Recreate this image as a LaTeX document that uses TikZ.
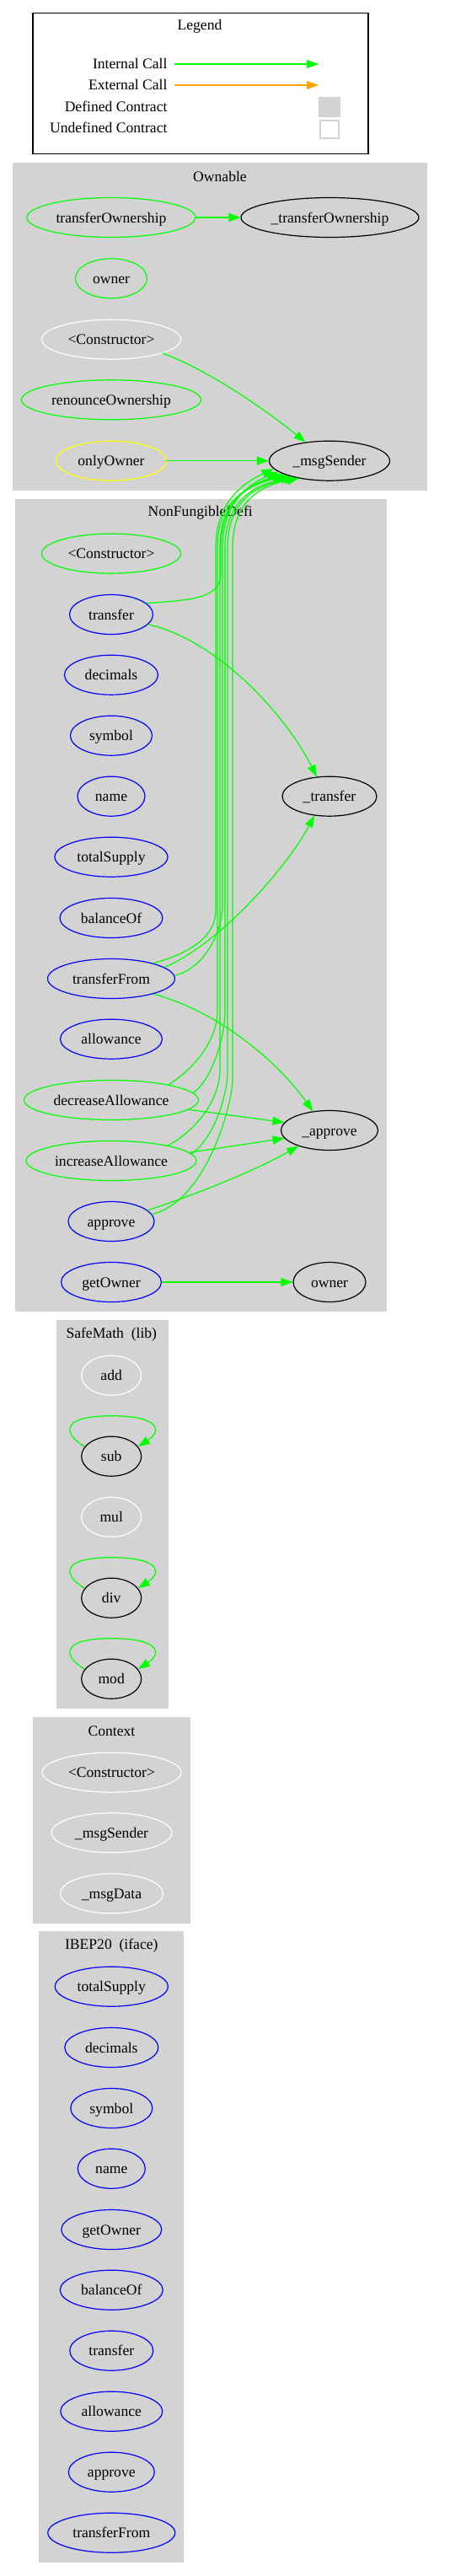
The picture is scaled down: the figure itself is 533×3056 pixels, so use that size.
\documentclass[tikz,border=0pt]{standalone}
\usepackage{fontspec}
\setmainfont{Liberation Serif}
\usetikzlibrary{shapes.geometric,arrows.meta,calc}
\definecolor{lgray}{HTML}{D3D3D3}
\definecolor{gr}{HTML}{00FF00}
\definecolor{bl}{HTML}{0000FF}
\definecolor{ye}{HTML}{FFFF00}
\definecolor{orng}{HTML}{FFA500}
\newcommand\sloop[1]{\draw[call] (#1.160) .. controls ($(#1)+(-59,-28)$) and ($(#1)+(-59,-48)$) .. ($(#1)+(0,-48)$) .. controls ($(#1)+(58,-48)$) and ($(#1)+(60,-30)$) .. (#1.20);}
\newcommand\bund[5]{\draw[call] (#1) .. controls (#2) and (#3,#4+30) .. (#3,#4) -- (#3,650) .. controls (#3,605) and (#3+22,578) .. (msgS.#5);}
\begin{document}
\begin{tikzpicture}[x=1pt,y=-1pt,
  every node/.style={font=\fontsize{17.6}{21}\selectfont},
  fn/.style={ellipse, draw, line width=1.2pt, minimum height=47pt, inner sep=0pt, text height=13pt, text depth=1pt},
  gfn/.style={fn, draw=gr},
  bfn/.style={fn, draw=bl},
  wfn/.style={fn, draw=white},
  kfn/.style={fn, draw=black},
  yfn/.style={fn, draw=ye},
  call/.style={draw=gr, line width=1.2pt, -{Triangle[length=14pt,width=10pt]}},
  ext/.style={draw=orng, line width=1.2pt, -{Triangle[length=14pt,width=10pt]}},
  ttl/.style={anchor=base},
  lgd/.style={anchor=base east}
]
\useasboundingbox (0,0) rectangle (533,3056);
\fill[white] (0,0) rectangle (533,3056);

% Legend
\draw[line width=1.3pt, fill=white] (39,15.7) rectangle (437,182.7);
\node[ttl] (lgT) at (237,36) {Legend};
\node[lgd] (lgI) at (202,81.5) {Internal Call};
\node[lgd] (lgE) at (202,106.8) {External Call};
\node[lgd] (lgD) at (202,132.1) {Defined Contract};
\node[lgd] (lgU) at (202,157.4) {Undefined Contract};
\coordinate (liA) at (207,76);
\coordinate (liB) at (378,76);
\coordinate (leA) at (207,101);
\coordinate (leB) at (378,101);
\draw[call] (liA) -- (liB);
\draw[ext] (leA) -- (leB);
\fill[lgray] (378,115) rectangle (404,139);
\draw[lgray, line width=1.2pt, fill=white] (380,143) rectangle (402,164);

% Clusters
\fill[lgray] (15,192.7) rectangle (507,581.7);
\fill[lgray] (17.7,591.7) rectangle (459,1556);
\fill[lgray] (66.7,1566) rectangle (199.7,2027.3);
\fill[lgray] (39,2036.7) rectangle (226,2281.7);
\fill[lgray] (46.3,2291) rectangle (218.3,3040);
\node[ttl] (cOwn) at (261,215) {Ownable};
\node[ttl] (cNFD) at (237.7,612.3) {NonFungibleDefi};
\node[ttl] (cSM) at (132.3,1587.3) {SafeMath\ \ (lib)};
\node[ttl] (cCtx) at (132.5,2059) {Context};
\node[ttl] (cIB) at (132.3,2312.7) {IBEP20\ \ (iface)};

% Ownable
\node[gfn, minimum width=200] (tO) at (132,258) {transferOwnership};
\node[kfn, minimum width=211] (tOi) at (391.5,258) {\_transferOwnership};
\node[gfn, minimum width=85] (oOwner) at (132,330.3) {owner};
\node[wfn, minimum width=165] (oCtor) at (132,402.7) {<Constructor>};
\node[gfn, minimum width=213] (renO) at (132,474.3) {renounceOwnership};
\node[yfn, minimum width=131] (onlyO) at (132,546.7) {onlyOwner};
\node[kfn, minimum width=143] (msgS) at (391,546.7) {\_msgSender};

% NonFungibleDefi
\node[gfn, minimum width=165] (nCtor) at (132,656.7) {<Constructor>};
\node[bfn, minimum width=99] (transfer) at (132,729) {transfer};
\node[bfn, minimum width=111] (nDec) at (132,800.7) {decimals};
\node[bfn, minimum width=97] (nSym) at (132,872.7) {symbol};
\node[bfn, minimum width=80] (nName) at (132,944.7) {name};
\node[kfn, minimum width=112] (trI) at (391,944.7) {\_transfer};
\node[bfn, minimum width=134] (nTot) at (132,1016.7) {totalSupply};
\node[bfn, minimum width=122] (nBal) at (132,1089) {balanceOf};
\node[bfn, minimum width=151] (tF) at (132,1161) {transferFrom};
\node[bfn, minimum width=121] (nAll) at (132,1232.7) {allowance};
\node[gfn, minimum width=207] (decA) at (132,1305) {decreaseAllowance};
\node[kfn, minimum width=115] (apI) at (391,1341) {\_approve};
\node[gfn, minimum width=202] (incA) at (132,1377) {increaseAllowance};
\node[bfn, minimum width=102] (appr) at (132,1449) {approve};
\node[bfn, minimum width=119] (gOwn) at (132,1521) {getOwner};
\node[kfn, minimum width=86] (nOwner) at (391,1521) {owner};

% SafeMath
\node[wfn, minimum width=71] (smAdd) at (132.2,1631.7) {add};
\node[kfn, minimum width=71] (smSub) at (132.2,1727.7) {sub};
\node[wfn, minimum width=71] (smMul) at (132.2,1799.7) {mul};
\node[kfn, minimum width=71] (smDiv) at (132.2,1895.7) {div};
\node[kfn, minimum width=71] (smMod) at (132.2,1991.7) {mod};

% Context
\node[wfn, minimum width=165] (cCtor) at (132.5,2102.7) {<Constructor>};
\node[wfn, minimum width=143] (cMsgS) at (132.5,2174.3) {\_msgSender};
\node[wfn, minimum width=122] (cMsgD) at (132.5,2246.3) {\_msgData};

% IBEP20
\node[bfn, minimum width=134] (iTot) at (132.3,2356.7) {totalSupply};
\node[bfn, minimum width=111] (iDec) at (132.3,2429) {decimals};
\node[bfn, minimum width=97] (iSym) at (132.3,2501) {symbol};
\node[bfn, minimum width=80] (iName) at (132.3,2572.7) {name};
\node[bfn, minimum width=119] (iGet) at (132.3,2645) {getOwner};
\node[bfn, minimum width=122] (iBal) at (132.3,2716.7) {balanceOf};
\node[bfn, minimum width=99] (iTr) at (132.3,2788.7) {transfer};
\node[bfn, minimum width=121] (iAll) at (132.3,2860.7) {allowance};
\node[bfn, minimum width=102] (iApp) at (132.3,2932.7) {approve};
\node[bfn, minimum width=151] (iTF) at (132.3,3004.7) {transferFrom};

% Edges: Ownable
\draw[call] (tO.east) -- (tOi.west);
\draw[call] (oCtor.-15) .. controls (250,440) and (320,490) .. (msgS.142);
\draw[call] (onlyO.east) -- (msgS.west);

% Edges: bundle to _msgSender
\bund{transfer.18}{228,712}{262}{680}{196}
\bund{tF.20}{228,1130}{256}{1080}{188}
\bund{tF.3}{242,1150}{264}{1075}{192}
\bund{decA.15}{235,1265}{258}{1200}{200}
\bund{decA.5}{252,1280}{267}{1200}{204}
\bund{incA.15}{238,1338}{261}{1270}{198}
\bund{incA.5}{254,1350}{270}{1270}{207}
\bund{appr.10}{245,1425}{276}{1280}{210}

% Edges: to _transfer / _approve / owner
\draw[call] (transfer.-15) .. controls (260,760) and (340,850) .. (trI.123);
\draw[call] (tF.12) .. controls (260,1120) and (340,1030) .. (trI.232);
\draw[call] (tF.-20) .. controls (260,1200) and (330,1260) .. (apI.131);
\draw[call] (decA.-7) -- (apI.170);
\draw[call] (incA.6) -- (apI.190);
\draw[call] (appr.17) .. controls (230,1418) and (300,1390) .. (apI.207);
\draw[call] (gOwn.east) -- (nOwner.west);

% SafeMath self loops
\sloop{smSub}
\sloop{smDiv}
\sloop{smMod}
\end{tikzpicture}
\end{document}
